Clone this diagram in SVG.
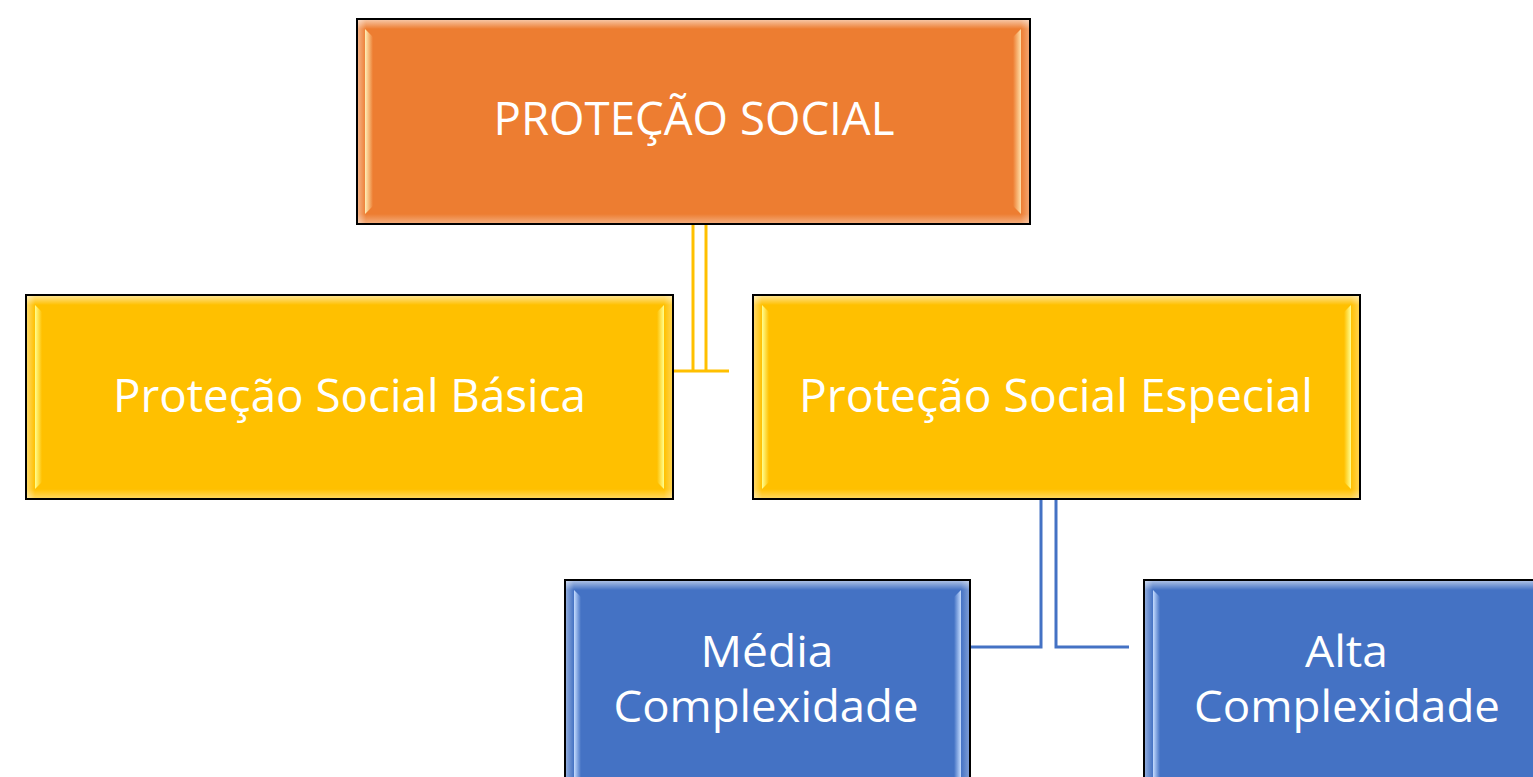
<svg xmlns="http://www.w3.org/2000/svg" width="1533" height="777" viewBox="0 0 1533 777">
<style>
.box{stroke:#000;stroke-width:2}
.o{fill:#ED7D31}.y{fill:#FFC000}.b{fill:#4472C4}
.t{font-family:"Open Sans","Noto Sans","Liberation Sans",sans-serif;font-size:46px;fill:#fff;text-anchor:middle}
.t2{font-size:44px}
.cy{stroke:#FFC000;stroke-width:3;fill:none}
.cb{stroke:#4472C4;stroke-width:3;fill:none}
</style>
<defs>
<linearGradient id="gT" x1="0" y1="0" x2="0" y2="1"><stop offset="0" stop-color="#fff" stop-opacity=".55"/><stop offset="1" stop-color="#fff" stop-opacity="0"/></linearGradient>
<linearGradient id="gB" x1="0" y1="1" x2="0" y2="0"><stop offset="0" stop-color="#fff" stop-opacity=".35"/><stop offset="1" stop-color="#fff" stop-opacity="0"/></linearGradient>
<linearGradient id="gL" x1="0" y1="0" x2="1" y2="0"><stop offset="0" stop-color="#fff" stop-opacity=".4"/><stop offset="1" stop-color="#fff" stop-opacity="0"/></linearGradient>
<linearGradient id="gR" x1="1" y1="0" x2="0" y2="0"><stop offset="0" stop-color="#fff" stop-opacity=".3"/><stop offset="1" stop-color="#fff" stop-opacity="0"/></linearGradient>
<linearGradient id="sO" x1="0" y1="0" x2="1" y2="0"><stop offset="0" stop-color="#FFF0B8"/><stop offset="1" stop-color="#ED7D31"/></linearGradient>
<linearGradient id="sOr" x1="1" y1="0" x2="0" y2="0"><stop offset="0" stop-color="#FFE0A8"/><stop offset="1" stop-color="#ED7D31"/></linearGradient>
<linearGradient id="sY" x1="0" y1="0" x2="1" y2="0"><stop offset="0" stop-color="#FFFF90"/><stop offset="1" stop-color="#FFC000"/></linearGradient>
<linearGradient id="sYr" x1="1" y1="0" x2="0" y2="0"><stop offset="0" stop-color="#FFFF90"/><stop offset="1" stop-color="#FFC000"/></linearGradient>
<linearGradient id="sB" x1="0" y1="0" x2="1" y2="0"><stop offset="0" stop-color="#C5DCFF"/><stop offset="1" stop-color="#4472C4"/></linearGradient>
<linearGradient id="sBr" x1="1" y1="0" x2="0" y2="0"><stop offset="0" stop-color="#C5DCFF"/><stop offset="1" stop-color="#4472C4"/></linearGradient>
</defs>
<g id="connectors">
<line class="cy" x1="693" y1="225" x2="693" y2="371"/>
<line class="cy" x1="706" y1="225" x2="706" y2="371"/>
<line class="cy" x1="673" y1="371" x2="729" y2="371"/>
<polyline class="cb" points="1041,500 1041,647 971,647"/>
<polyline class="cb" points="1056,500 1056,647 1129,647"/>
</g>
<g id="n-protecao-social">
<rect class="box o" x="357" y="19" width="673" height="205"/>
<rect x="358" y="20" width="671" height="9" fill="url(#gT)"/>
<rect x="358" y="214" width="671" height="9" fill="url(#gB)"/>
<rect x="358" y="20" width="8" height="203" fill="url(#gL)"/>
<rect x="1021" y="20" width="8" height="203" fill="url(#gR)"/>
<polygon points="365,29 373,37 373,206 365,214" fill="url(#sO)"/>
<polygon points="1021,29 1013,37 1013,206 1021,214" fill="url(#sOr)"/>
<text class="t" x="694" y="135" textLength="401" lengthAdjust="spacingAndGlyphs">PROTEÇÃO SOCIAL</text>
</g>
<g id="n-basica">
<rect class="box y" x="26" y="295" width="647" height="204"/>
<rect x="27" y="296" width="645" height="9" fill="url(#gT)"/>
<rect x="27" y="489" width="645" height="9" fill="url(#gB)"/>
<rect x="27" y="296" width="8" height="202" fill="url(#gL)"/>
<rect x="664" y="296" width="8" height="202" fill="url(#gR)"/>
<polygon points="35,305 42,312 42,482 35,489" fill="url(#sY)"/>
<polygon points="664,305 657,312 657,482 664,489" fill="url(#sYr)"/>
<text class="t" x="349.5" y="412" textLength="473" lengthAdjust="spacingAndGlyphs">Proteção Social Básica</text>
</g>
<g id="n-especial">
<rect class="box y" x="753" y="295" width="607" height="204"/>
<rect x="754" y="296" width="605" height="9" fill="url(#gT)"/>
<rect x="754" y="489" width="605" height="9" fill="url(#gB)"/>
<rect x="754" y="296" width="8" height="202" fill="url(#gL)"/>
<rect x="1351" y="296" width="8" height="202" fill="url(#gR)"/>
<polygon points="762,305 769,312 769,482 762,489" fill="url(#sY)"/>
<polygon points="1351,305 1344,312 1344,482 1351,489" fill="url(#sYr)"/>
<text class="t" x="1056" y="412" textLength="514" lengthAdjust="spacingAndGlyphs">Proteção Social Especial</text>
</g>
<g id="n-media">
<rect class="box b" x="565" y="580" width="405" height="230"/>
<rect x="566" y="581" width="403" height="9" fill="url(#gT)"/>
<rect x="566" y="581" width="8" height="229" fill="url(#gL)"/>
<rect x="961" y="581" width="8" height="229" fill="url(#gR)"/>
<polygon points="574,590 581,597 581,800 574,800" fill="url(#sB)"/>
<polygon points="961,590 954,597 954,800 961,800" fill="url(#sBr)"/>
<text class="t t2" x="767" y="667" textLength="133" lengthAdjust="spacingAndGlyphs">Média</text>
<text class="t t2" x="766" y="722" textLength="305" lengthAdjust="spacingAndGlyphs">Complexidade</text>
</g>
<g id="n-alta">
<rect class="box b" x="1144" y="580" width="405" height="230"/>
<rect x="1145" y="581" width="403" height="9" fill="url(#gT)"/>
<rect x="1145" y="581" width="8" height="229" fill="url(#gL)"/>
<polygon points="1153,590 1160,597 1160,800 1153,800" fill="url(#sB)"/>
<text class="t t2" x="1346.5" y="667" textLength="83" lengthAdjust="spacingAndGlyphs">Alta</text>
<text class="t t2" x="1347" y="722" textLength="306" lengthAdjust="spacingAndGlyphs">Complexidade</text>
</g>
</svg>
